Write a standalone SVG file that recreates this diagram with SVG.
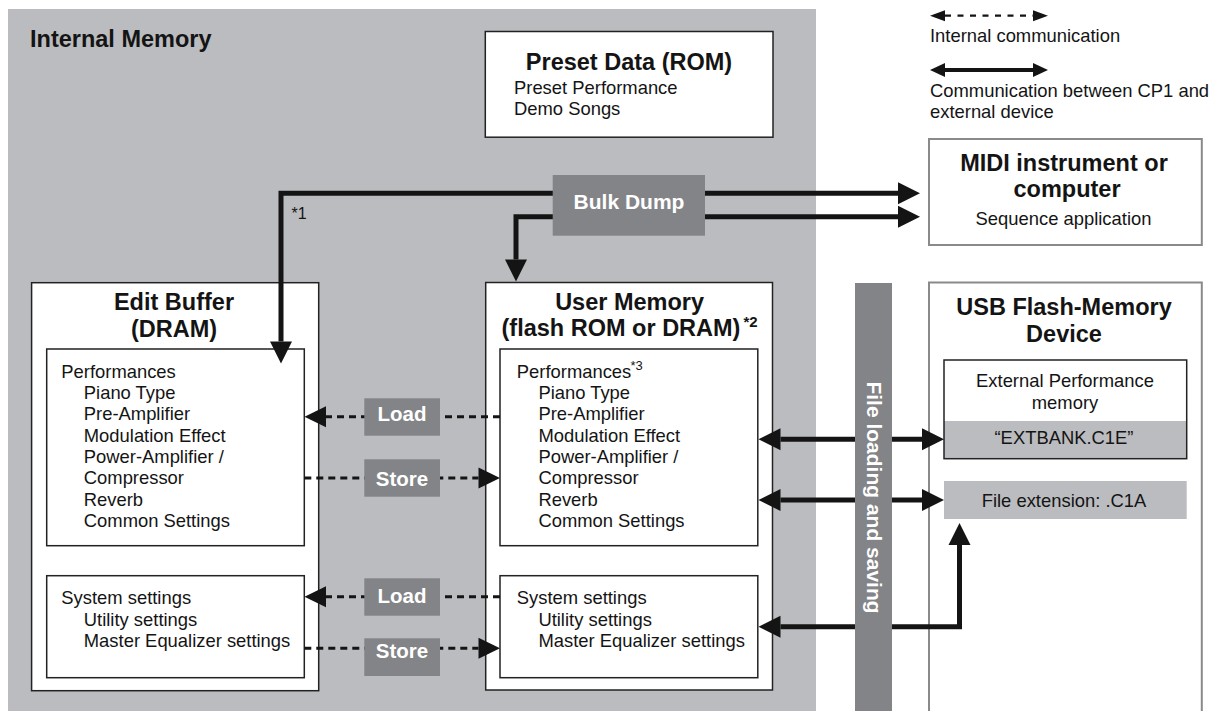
<svg xmlns="http://www.w3.org/2000/svg" width="1219" height="711" viewBox="0 0 1219 711">
<style>
text{font-family:"Liberation Sans",Arial,sans-serif;fill:#141414}
.t{font-size:23.5px;font-weight:bold;text-anchor:middle}
.b{font-size:18.4px}
.c{font-size:18.4px;text-anchor:middle}
.w{fill:#fff;font-weight:bold;font-size:20.5px;text-anchor:middle}
.box{fill:#fff;stroke:#222;stroke-width:1.5}
.ext{fill:#fff;stroke:#8a8a8a;stroke-width:2}
.dk{fill:#838487}
.thick{fill:none;stroke:#141414;stroke-width:5;stroke-linejoin:miter}
.dash{fill:none;stroke:#141414;stroke-width:3;stroke-dasharray:7 5}
</style>
<defs>
<marker id="ah" markerUnits="userSpaceOnUse" markerWidth="22" markerHeight="22" refX="0" refY="11" orient="auto-start-reverse" overflow="visible"><path d="M0,0L22,11L0,22z" fill="#141414"/></marker>
<marker id="dh" markerUnits="userSpaceOnUse" markerWidth="22" markerHeight="22" refX="0" refY="10.5" orient="auto-start-reverse" overflow="visible"><path d="M0,0L21.5,10.5L0,21z" fill="#141414"/></marker>
<marker id="lh" markerUnits="userSpaceOnUse" markerWidth="15" markerHeight="14" refX="0" refY="5.5" orient="auto-start-reverse" overflow="visible"><path d="M0,0L15,5.5L0,11z" fill="#141414"/></marker>
<marker id="lh2" markerUnits="userSpaceOnUse" markerWidth="15" markerHeight="14" refX="0" refY="7" orient="auto-start-reverse" overflow="visible"><path d="M0,0L15,7L0,14z" fill="#141414"/></marker>
</defs>

<g id="internal-memory">
<rect x="8" y="9" width="808" height="703" fill="#bbbcbf"/>
<text x="30" y="46.7" style="font-size:23.5px;font-weight:bold">Internal Memory</text>
</g>

<g id="legend">
<line x1="945" y1="15.7" x2="1033" y2="15.7" stroke="#141414" stroke-width="2.2" stroke-dasharray="6 6.5" marker-start="url(#lh)" marker-end="url(#lh)"/>
<text x="930" y="42" class="b">Internal communication</text>
<line x1="945" y1="70" x2="1033" y2="70" stroke="#141414" stroke-width="3.8" marker-start="url(#lh2)" marker-end="url(#lh2)"/>
<text x="930" y="96.5" class="b">Communication between CP1 and</text>
<text x="930" y="118" class="b">external device</text>
</g>

<g id="preset-data">
<rect class="box" x="485.3" y="31.5" width="287.7" height="105.7"/>
<text class="t" x="629" y="70">Preset Data (ROM)</text>
<text class="b" x="514" y="94">Preset Performance</text>
<text class="b" x="514" y="115">Demo Songs</text>
</g>

<g id="midi-device">
<rect class="ext" x="929" y="139" width="272.8" height="106"/>
<text class="t" x="1064" y="170.7">MIDI instrument or</text>
<text class="t" x="1067" y="196.5">computer</text>
<text class="c" x="1063.5" y="225">Sequence application</text>
</g>

<g id="usb-device">
<path d="M929,712V282.5H1201.8V712" fill="#fff" stroke="#8a8a8a" stroke-width="2"/>
<text class="t" x="1064" y="315">USB Flash-Memory</text>
<text class="t" x="1064" y="341.5">Device</text>
</g>

<g id="external-performance">
<rect x="944" y="421" width="242.7" height="37.7" fill="#bbbcbf"/>
<rect x="944" y="360" width="242.7" height="98.7" fill="none" stroke="#222" stroke-width="1.5"/>
<text class="c" x="1065" y="387.3">External Performance</text>
<text class="c" x="1065" y="408.5">memory</text>
<text class="c" x="1064" y="444">“EXTBANK.C1E”</text>
</g>

<g id="file-extension">
<rect x="944" y="481" width="242.7" height="38" fill="#bbbcbf"/>
<text class="c" x="1064" y="507">File extension: .C1A</text>
</g>

<g id="edit-buffer">
<rect class="box" x="31.6" y="282.7" width="287.1" height="408"/>
<text class="t" x="174" y="310">Edit Buffer</text>
<text class="t" x="174" y="336.5">(DRAM)</text>
<rect class="box" x="46.7" y="349" width="257.6" height="196.7"/>
<text class="b" x="61.3" y="377.5">Performances</text>
<text class="b" x="83.8" y="399">Piano Type</text>
<text class="b" x="83.8" y="420.3">Pre-Amplifier</text>
<text class="b" x="83.8" y="441.7">Modulation Effect</text>
<text class="b" x="83.8" y="463">Power-Amplifier /</text>
<text class="b" x="83.8" y="484.3">Compressor</text>
<text class="b" x="83.8" y="505.7">Reverb</text>
<text class="b" x="83.8" y="527">Common Settings</text>
<rect class="box" x="46.7" y="575.7" width="257.6" height="102"/>
<text class="b" x="61.3" y="604">System settings</text>
<text class="b" x="83.8" y="625.5">Utility settings</text>
<text class="b" x="83.8" y="647">Master Equalizer settings</text>
</g>

<g id="user-memory">
<rect class="box" x="485.7" y="282.5" width="286.8" height="407.5"/>
<text class="t" x="629.6" y="310">User Memory</text>
<text class="t" x="621" y="336">(flash ROM or DRAM)</text>
<text x="743.5" y="327" style="font-size:15px;font-weight:bold">*2</text>
<rect class="box" x="500" y="349" width="257.8" height="196.7"/>
<text class="b" x="516.8" y="377.5">Performances</text>
<text x="630.5" y="370" style="font-size:13px">*3</text>
<text class="b" x="538.4" y="399">Piano Type</text>
<text class="b" x="538.4" y="420.3">Pre-Amplifier</text>
<text class="b" x="538.4" y="441.7">Modulation Effect</text>
<text class="b" x="538.4" y="463">Power-Amplifier /</text>
<text class="b" x="538.4" y="484.3">Compressor</text>
<text class="b" x="538.4" y="505.7">Reverb</text>
<text class="b" x="538.4" y="527">Common Settings</text>
<rect class="box" x="500" y="575.7" width="257.8" height="102"/>
<text class="b" x="516.8" y="604">System settings</text>
<text class="b" x="538.4" y="625.5">Utility settings</text>
<text class="b" x="538.4" y="647">Master Equalizer settings</text>
</g>

<g id="connectors">
<path class="thick" d="M281,341.5V193.3H898" marker-start="url(#ah)" marker-end="url(#ah)"/>
<path class="thick" d="M516,259.5V216.7H898" marker-start="url(#ah)" marker-end="url(#ah)"/>
<text x="291.5" y="219" style="font-size:16px">*1</text>
<path class="thick" d="M780.5,439.3H922" marker-start="url(#ah)" marker-end="url(#ah)"/>
<path class="thick" d="M780.5,500H922" marker-start="url(#ah)" marker-end="url(#ah)"/>
<path class="thick" d="M780.5,626.7H959.5V545" marker-start="url(#ah)" marker-end="url(#ah)"/>
<path class="dash" d="M500,416.7H326" marker-end="url(#dh)"/>
<path class="dash" d="M304.3,478H478.5" marker-end="url(#dh)"/>
<path class="dash" d="M500,596.7H326" marker-end="url(#dh)"/>
<path class="dash" d="M304.3,648.3H478.5" marker-end="url(#dh)"/>
</g>

<g id="bulk-dump">
<rect class="dk" x="552.7" y="175" width="152.3" height="60.7"/>
<text class="w" x="629" y="209.3" style="font-size:21px">Bulk Dump</text>
</g>

<g id="load-store">
<rect class="dk" x="364.3" y="398.3" width="75.7" height="37.4"/>
<text class="w" x="402" y="421">Load</text>
<rect class="dk" x="364.3" y="459.3" width="75.7" height="37.4"/>
<text class="w" x="402" y="485.5">Store</text>
<rect class="dk" x="364.3" y="578.3" width="75.7" height="37.4"/>
<text class="w" x="402" y="603">Load</text>
<rect class="dk" x="364.3" y="638.3" width="75.7" height="37.7"/>
<text class="w" x="402" y="658">Store</text>
</g>

<g id="file-loading-bar">
<rect class="dk" x="855" y="283" width="37" height="429"/>
<text class="w" transform="translate(866.5,497.5) rotate(90)" x="0" y="0" style="font-size:21px">File loading and saving</text>
</g>
</svg>
